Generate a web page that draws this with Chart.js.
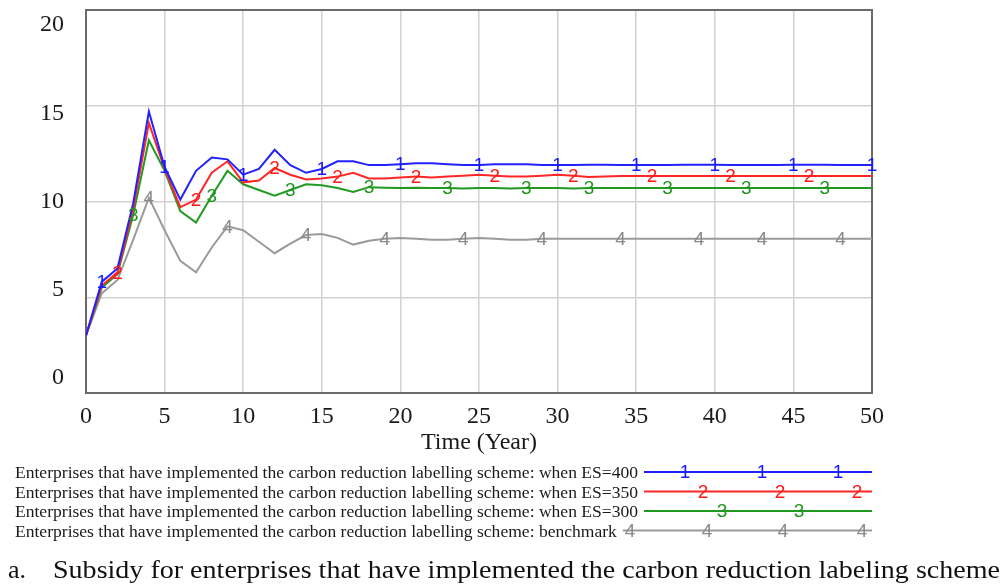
<!DOCTYPE html>
<html>
<head>
<meta charset="utf-8">
<script src="https://cdn.jsdelivr.net/npm/chart.js@4.4.1/dist/chart.umd.min.js"></script>
<style>
  html, body { margin: 0; padding: 0; background: #ffffff; }
  #wrap { width: 1004px; height: 587px; }
</style>
</head>
<body>
<div id="wrap"><canvas id="c" width="1004" height="587"></canvas></div>
<script>
// Simulation time axis (years)
const years = [0,1,2,3,4,5,6,7,8,9,10,11,12,13,14,15,16,17,18,19,20,21,22,23,24,25,26,27,28,29,30,31,32,33,34,35,36,37,38,39,40,41,42,43,44,45,46,47,48,49,50];

// Enterprises that have implemented the scheme, per scenario
const es400 = [3.0,5.8,6.5,9.9,14.7,11.8,10.1,11.6,12.3,12.2,11.4,11.7,12.7,11.9,11.5,11.7,12.1,12.1,11.9,11.9,11.95,12.0,12.0,11.95,11.9,11.9,11.95,11.95,11.95,11.9,11.9,11.9,11.92,11.92,11.9,11.9,11.9,11.9,11.92,11.92,11.92,11.9,11.9,11.9,11.9,11.92,11.92,11.92,11.9,11.9,11.9];
const es350 = [3.0,5.6,6.3,9.6,14.1,11.7,9.7,10.1,11.5,12.1,11.0,11.1,11.75,11.4,11.15,11.2,11.3,11.5,11.2,11.2,11.25,11.3,11.25,11.3,11.35,11.4,11.35,11.3,11.3,11.35,11.4,11.35,11.28,11.3,11.33,11.33,11.33,11.33,11.33,11.33,11.33,11.33,11.33,11.33,11.33,11.33,11.33,11.33,11.33,11.33,11.33];
const es300 = [3.0,5.5,6.2,9.3,13.2,11.6,9.5,8.9,10.3,11.6,10.9,10.6,10.3,10.6,10.9,10.85,10.7,10.5,10.75,10.72,10.7,10.72,10.7,10.7,10.68,10.7,10.7,10.68,10.7,10.7,10.7,10.68,10.7,10.7,10.7,10.7,10.7,10.7,10.7,10.7,10.7,10.7,10.7,10.7,10.7,10.7,10.7,10.7,10.7,10.7,10.7];
const benchmark = [3.0,5.2,5.9,8.0,10.2,8.5,6.9,6.3,7.6,8.7,8.5,7.9,7.3,7.8,8.25,8.3,8.1,7.75,7.95,8.05,8.1,8.05,8.0,8.0,8.05,8.1,8.05,8.0,8.0,8.05,8.05,8.05,8.05,8.05,8.05,8.05,8.05,8.05,8.05,8.05,8.05,8.05,8.05,8.05,8.05,8.05,8.05,8.05,8.05,8.05,8.05];

// Years at which each curve carries its number tag
const tags400 = [1,5,10,15,20,25,30,35,40,45,50];
const tags350 = [2,7,12,16,21,26,31,36,41,46];
const tags300 = [3,8,13,18,23,28,32,37,42,47];
const tagsBench = [4,9,14,19,24,29,34,39,43,48];

// Axis ticks
const xTicks = [0,5,10,15,20,25,30,35,40,45,50];
const yTicks = [0,5,10,15,20];

// Legend and caption text
const legendPrefix = 'Enterprises that have implemented the carbon reduction labelling scheme: ';
const seriesNames = ['when ES=400', 'when ES=350', 'when ES=300', 'benchmark'];
const seriesTags = ['1', '2', '3', '4'];
const captionLabel = 'a.';
const captionText = 'Subsidy for enterprises that have implemented the carbon reduction labeling scheme';
const xTitle = 'Time (Year)';

const colors = ['#2222ff', '#ff2626', '#229a22', '#9a9a9a'];
const tagColors = ['#1a1aff', '#ff1a1a', '#1f961f', '#8a8a8a'];
const seriesValues = [es400, es350, es300, benchmark];
const seriesTagYears = [tags400, tags350, tags300, tagsBench];

const SERIF = '"Liberation Serif", "Times New Roman", serif';
const SANS = '"Liberation Sans", Arial, sans-serif';
const TAG_FONT = '19px ' + SANS;

// Numbered tags drawn on top of each curve
const tagPlugin = {
  id: 'curveTags',
  afterDatasetsDraw(chart) {
    const ctx = chart.ctx;
    ctx.save();
    ctx.font = TAG_FONT;
    ctx.textAlign = 'center';
    ctx.textBaseline = 'middle';
    for (let di = chart.data.datasets.length - 1; di >= 0; di--) {
      const meta = chart.getDatasetMeta(di);
      ctx.fillStyle = tagColors[di];
      seriesTagYears[di].forEach(yr => {
        const pt = meta.data[years.indexOf(yr)];
        if (pt) ctx.fillText(seriesTags[di], pt.x, pt.y + 1);
      });
    }
    ctx.restore();
  }
};

// Frame around the plotting area, and the value labels of the vertical axis,
// which sit on a band slightly inset from the frame's top and bottom edges
const framePlugin = {
  id: 'frame',
  beforeDatasetsDraw(chart) {
    const { ctx, chartArea: a } = chart;
    ctx.save();
    ctx.strokeStyle = '#6a6a6a';
    ctx.lineWidth = 2;
    ctx.strokeRect(a.left, a.top, a.right - a.left, a.bottom - a.top);

    const ys = chart.scales.y;
    const inset = 15;
    const k = (a.bottom - a.top - 2 * inset) / (a.bottom - a.top);
    ctx.font = '24px ' + SERIF;
    ctx.fillStyle = '#1a1a1a';
    ctx.textAlign = 'right';
    ctx.textBaseline = 'middle';
    yTicks.forEach(v => {
      const py = a.top + inset + (ys.getPixelForValue(v) - a.top) * k;
      ctx.fillText(String(v), a.left - 22, py);
    });
    ctx.restore();
  }
};

// Legend rows below the axis, then the caption
const legendPlugin = {
  id: 'legendRows',
  afterDraw(chart) {
    const ctx = chart.ctx;
    const right = chart.chartArea.right;
    ctx.save();
    ctx.font = '16px ' + SERIF;
    ctx.fillStyle = '#1a1a1a';
    ctx.textBaseline = 'alphabetic';
    ctx.textAlign = 'left';
    const left = 15;
    const fullW = ctx.measureText(legendPrefix + seriesNames[0]).width;
    const sx = 623 / fullW;
    const baselines = [478, 497.5, 517, 536.5];
    const tagSpots = [
      [685, 762, 838],
      [703, 780, 857],
      [722, 799],
      [630, 707, 783, 862]
    ];
    seriesNames.forEach((name, i) => {
      const txt = legendPrefix + name;
      const w = ctx.measureText(txt).width * sx;
      ctx.save();
      ctx.translate(left, baselines[i]);
      ctx.scale(sx, 1);
      ctx.fillStyle = '#1a1a1a';
      ctx.fillText(txt, 0, 0);
      ctx.restore();
      const ly = baselines[i] - 6;
      const x0 = left + w + 6;
      ctx.strokeStyle = colors[i];
      ctx.lineWidth = 2;
      ctx.beginPath();
      ctx.moveTo(x0, ly);
      ctx.lineTo(right, ly);
      ctx.stroke();
      ctx.save();
      ctx.font = TAG_FONT;
      ctx.fillStyle = tagColors[i];
      ctx.textAlign = 'center';
      ctx.textBaseline = 'middle';
      tagSpots[i].forEach(x => ctx.fillText(seriesTags[i], x, ly + 1));
      ctx.restore();
    });

    // Caption
    ctx.font = '26px ' + SERIF;
    ctx.fillStyle = '#111111';
    ctx.textAlign = 'left';
    ctx.fillText(captionLabel, 8, 578);
    const cw = ctx.measureText(captionText).width;
    ctx.save();
    ctx.translate(53, 578);
    ctx.scale(947 / cw, 1);
    ctx.fillText(captionText, 0, 0);
    ctx.restore();
    ctx.restore();
  }
};

const chart = new Chart(document.getElementById('c'), {
  type: 'line',
  data: {
    labels: years,
    datasets: seriesValues.map((vals, i) => ({
      label: seriesNames[i],
      data: vals.map((v, k) => ({ x: years[k], y: v })),
      borderColor: colors[i],
      backgroundColor: colors[i],
      borderWidth: 2,
      pointRadius: 0,
      tension: 0,
      fill: false
    }))
  },
  options: {
    responsive: false,
    animation: false,
    devicePixelRatio: 1,
    layout: { padding: { top: 10, left: 0, right: 132, bottom: 124 } },
    plugins: {
      legend: { display: false },
      tooltip: { enabled: false },
      title: { display: false }
    },
    scales: {
      x: {
        type: 'linear',
        min: 0,
        max: 50,
        afterBuildTicks(scale) { scale.ticks = xTicks.map(v => ({ value: v })); },
        afterFit(scale) { scale.height = 70; },
        grid: { color: '#d2d2d2', lineWidth: 1.5, drawTicks: false },
        border: { display: false },
        ticks: {
          padding: 9,
          color: '#1a1a1a',
          font: { family: SERIF, size: 24 },
          maxRotation: 0
        },
        title: {
          display: true,
          text: xTitle,
          color: '#1a1a1a',
          font: { family: SERIF, size: 24 },
          padding: { top: 0, bottom: 6 }
        }
      },
      y: {
        min: 0,
        max: 20,
        afterBuildTicks(scale) { scale.ticks = yTicks.map(v => ({ value: v })); },
        afterFit(scale) {
          scale.width = 86;
          scale.paddingTop = 0;
          scale.paddingBottom = 0;
        },
        grid: { color: '#d2d2d2', lineWidth: 1.5, drawTicks: false },
        border: { display: false },
        ticks: { display: false }
      }
    }
  },
  plugins: [framePlugin, tagPlugin, legendPlugin]
});
</script>
</body>
</html>
